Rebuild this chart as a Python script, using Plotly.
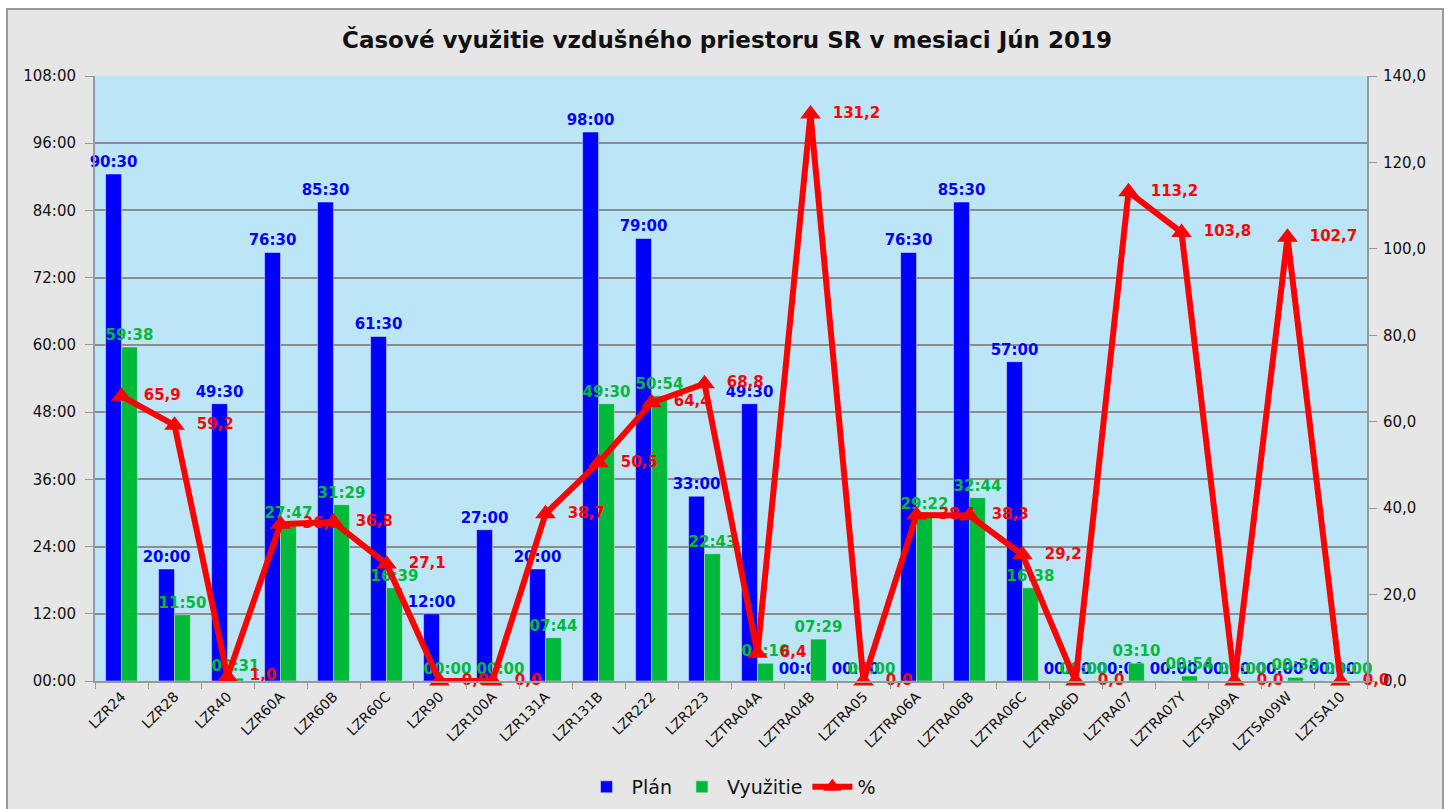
import plotly.graph_objects as go

categories = ["LZR24", "LZR28", "LZR40", "LZR60A", "LZR60B", "LZR60C", "LZR90", "LZR100A",
              "LZR131A", "LZR131B", "LZR222", "LZR223", "LZTRA04A", "LZTRA04B", "LZTRA05",
              "LZTRA06A", "LZTRA06B", "LZTRA06C", "LZTRA06D", "LZTRA07", "LZTRA07Y",
              "LZTSA09A", "LZTSA09W", "LZTSA10"]
plan = ["90:30", "20:00", "49:30", "76:30", "85:30", "61:30", "12:00", "27:00",
        "20:00", "98:00", "79:00", "33:00", "49:30", "00:00", "00:00",
        "76:30", "85:30", "57:00", "00:00", "00:00", "00:00",
        "00:00", "00:00", "00:00"]
vyuzitie = ["59:38", "11:50", "00:31", "27:47", "31:29", "16:39", "00:00", "00:00",
            "07:44", "49:30", "50:54", "22:43", "03:10", "07:29", "00:00",
            "29:22", "32:44", "16:38", "00:00", "03:10", "00:54",
            "00:00", "00:39", "00:00"]
percent = [65.9, 59.2, 1.0, 36.3, 36.8, 27.1, 0.0, 0.0,
           38.7, 50.5, 64.4, 68.8, 6.4, 131.2, 0.0,
           38.4, 38.3, 29.2, 0.0, 113.2, 103.8,
           0.0, 102.7, 0.0]
left_tick_hours = [0, 12, 24, 36, 48, 60, 72, 84, 96, 108]
left_tick_labels = ["00:00", "12:00", "24:00", "36:00", "48:00", "60:00", "72:00", "84:00", "96:00", "108:00"]
right_ticks = [0, 20, 40, 60, 80, 100, 120, 140]

FONT = "DejaVu Sans"


def to_hours(s):
    h, m = s.split(":")
    return int(h) + int(m) / 60.0


plan_h = [to_hours(s) for s in plan]
vyu_h = [to_hours(s) for s in vyuzitie]
pct_text = [f"{v:.1f}".replace(".", ",") for v in percent]

fig = go.Figure()
fig.add_trace(go.Bar(
    x=categories, y=plan_h, name="Plán", marker_color="#0000ff",
    text=plan, textposition="outside", constraintext="none", cliponaxis=False,
    textfont=dict(family=FONT, size=15, color="#0000ff", weight="bold"),
    hoverinfo="skip",
))
fig.add_trace(go.Bar(
    x=categories, y=vyu_h, name="Využitie", marker_color="#00b93a",
    text=vyuzitie, textposition="outside", constraintext="none", cliponaxis=False,
    textfont=dict(family=FONT, size=15, color="#00b93a", weight="bold"),
    hoverinfo="skip",
))
fig.add_trace(go.Scatter(
    x=categories, y=percent, name="%", yaxis="y2",
    mode="lines+markers",
    line=dict(color="#ff0000", width=6),
    marker=dict(symbol="triangle-up", size=18, color="#ff0000"),
    cliponaxis=False, hoverinfo="skip",
))
# data labels of the % series (transparent larger marker only widens the label offset)
fig.add_trace(go.Scatter(
    x=categories, y=percent, yaxis="y2", showlegend=False,
    mode="markers+text",
    marker=dict(size=34, color="rgba(0,0,0,0)"),
    text=pct_text, textposition="middle right", cliponaxis=False,
    textfont=dict(family=FONT, size=15, color="#ff0000", weight="bold"),
    hoverinfo="skip",
))

L, R, T, B = 95, 87, 76, 128
W, H = 1454, 809
pw, ph = W - L - R, H - T - B

def px_x(p):
    return (p - L) / pw

def px_y(p):
    return (H - B - p) / ph

shapes = [
    dict(type="rect", xref="paper", yref="paper", layer="below",
         x0=px_x(7), x1=px_x(1443), y0=px_y(812), y1=px_y(9),
         fillcolor="#e6e6e6", line=dict(color="#9a9a9a", width=2)),
    dict(type="rect", xref="paper", yref="paper", layer="below",
         x0=0, x1=1, y0=0, y1=1, fillcolor="#bde5f8", line=dict(width=0)),
]

fig.update_layout(
    width=W, height=H,
    margin=dict(l=L, r=R, t=T, b=B, autoexpand=False),
    paper_bgcolor="#ffffff", plot_bgcolor="rgba(0,0,0,0)",
    font=dict(family=FONT, size=15, color="#1a1a1a"),
    separators=",.",
    barmode="group", bargap=0.4, bargroupgap=0,
    title=dict(text="<b>Časové využitie vzdušného priestoru SR v mesiaci Jún 2019</b>",
               x=0.5, xref="container", xanchor="center",
               y=1 - 40 / H, yref="container", yanchor="middle",
               font=dict(family=FONT, size=23, color="#111111")),
    xaxis=dict(type="category", range=[-0.5, len(categories) - 0.5], automargin=False,
               tickangle=-45, tickson="boundaries",
               ticks="outside", ticklen=6, tickcolor="#999999",
               showline=True, linecolor="#999999", linewidth=2,
               showgrid=False, tickfont=dict(family=FONT, size=14, color="#111111")),
    yaxis=dict(range=[0, 108], tickvals=left_tick_hours, ticktext=left_tick_labels,
               automargin=False, ticklabelstandoff=6,
               showgrid=True, gridcolor="#8c8c8c", gridwidth=1.5,
               showline=True, linecolor="#999999", linewidth=2,
               ticks="outside", ticklen=8, tickcolor="#999999",
               zeroline=False, tickfont=dict(family=FONT, size=15, color="#111111")),
    yaxis2=dict(range=[0, 140], tickvals=right_ticks, tickformat=".1f", automargin=False,
                ticklabelstandoff=3,
                overlaying="y", side="right", showgrid=False, zeroline=False,
                showline=True, linecolor="#999999", linewidth=2,
                ticks="outside", ticklen=8, tickcolor="#999999",
                tickfont=dict(family=FONT, size=15, color="#111111")),
    legend=dict(orientation="h", x=0.5, xanchor="center", y=px_y(787), yanchor="middle",
                font=dict(family=FONT, size=19, color="#111111"),
                itemwidth=40, bgcolor="rgba(0,0,0,0)"),
    shapes=shapes,
)

fig.write_html("out.html", config={"displayModeBar": False},
               post_script="document.body.style.margin='0px';")
